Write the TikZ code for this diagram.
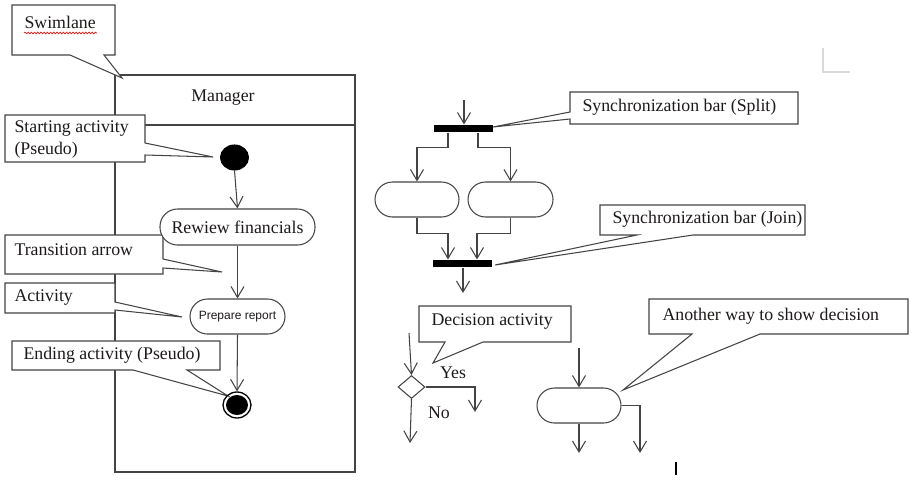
\documentclass[tikz,border=0pt]{standalone}
\usepackage{fontspec}
\setmainfont{Liberation Serif}
\newfontfamily\sansf{Liberation Sans}
\usetikzlibrary{arrows.meta,shapes.geometric,decorations.pathmorphing}
\definecolor{ln}{HTML}{444444}
\definecolor{txt}{HTML}{1E1A1A}
\begin{document}
\begin{tikzpicture}[x=1pt,y=-1pt,
  line width=1.05pt,
  every node/.style={font=\fontsize{17.8}{22}\selectfont, text=txt},
  arr/.style={draw=ln, -{Straight Barb[length=11pt,width=13pt]}},
  callout/.style={draw=ln, fill=white, line join=miter},
  oval/.style={draw=ln, rounded corners=17.5pt, minimum height=35, inner sep=0},
  bar/.style={fill=black, minimum width=59, minimum height=7, inner sep=0},
  lbl/.style={anchor=west, inner sep=0}]
\useasboundingbox (0,0) rectangle (913,485);
\fill[white] (0,0) rectangle (913,485);

% swimlane
\node[draw=ln, minimum width=240, minimum height=397, inner sep=0] (lane) at (235,273.5) {};
\draw[ln] (lane.west |- 0,125) -- (lane.east |- 0,125);
\node (mgr) at (223,98) {Manager};

% callouts
\draw[callout] (12,5) -- (115,5) -- (115,55) -- (104,55) -- (122,78) -- (70,55) -- (12,55) -- cycle;
\node[lbl] (swl) at (24,22) {Swimlane};
\draw[red, line width=0.6, decorate, decoration={snake, amplitude=0.9, segment length=3.2}] (24,33) -- (97,33);

\draw[callout] (5,115) -- (145,115) -- (145,143) -- (213,157) -- (145,155) -- (145,162) -- (5,162) -- cycle;
\node[lbl, align=left] (sact) at (14,139) {Starting activity\\(Pseudo)};

\draw[callout] (5,235) -- (163,235) -- (163,259) -- (222,272) -- (163,268) -- (163,274) -- (5,274) -- cycle;
\node[lbl] (tarr) at (14,250) {Transition arrow};

\draw[callout] (5,283) -- (115,283) -- (115,302) -- (182,317) -- (115,310) -- (115,313) -- (5,313) -- cycle;
\node[lbl] (act) at (14,298) {Activity};

\draw[callout] (12,341) -- (220,341) -- (220,370) -- (187,370) -- (228,396) -- (133,370) -- (12,370) -- cycle;
\node[lbl] (eact) at (23,355) {Ending activity (Pseudo)};

\draw[callout] (570,92) -- (798,92) -- (798,124) -- (570,124) -- (570,119) -- (493,127) -- (570,112) -- cycle;
\node[lbl] (splt) at (582,107) {Synchronization bar (Split)};

\draw[callout] (600,205) -- (805,205) -- (805,235) -- (693,235) -- (495,265) -- (637,235) -- (600,235) -- cycle;
\node[lbl] (jnt) at (612,219) {Synchronization bar (Join)};

\draw[callout] (419,306) -- (571,306) -- (571,342) -- (483,342) -- (433,363) -- (445,342) -- (419,342) -- cycle;
\node[lbl] (dect) at (431,322) {Decision activity};

\draw[callout] (649,299) -- (908,299) -- (908,334) -- (760,334) -- (623,390) -- (692,334) -- (649,334) -- cycle;
\node[lbl] (altt) at (662,316) {Another way to show decision};

% swimlane flow
\node[ellipse, fill=black, draw=black, minimum width=28, minimum height=25, inner sep=0] (start) at (234.5,157.5) {};
\node[oval, minimum width=155, minimum height=36, fill=white] (review) at (237.5,227) {Rewiew financials};
\node[oval, minimum width=95, fill=white, font=\sansf\fontsize{12}{14}\selectfont] (prep) at (237.5,316.5) {Prepare report};
\node[ellipse, draw=black, line width=1.3pt, minimum width=28, minimum height=26, inner sep=0] (end) at (237,405) {};
\node[ellipse, fill=black, minimum width=22, minimum height=20, inner sep=0] (endin) at (end.center) {};
\draw[arr] (start.south) -- (review.north);
\draw[arr] (review.south) -- (prep.north);
\draw[arr] (prep.south) -- (end.north);

% fork / join
\node[bar] (split) at (463.5,128.5) {};
\coordinate (splitin) at (464,100);
\draw[arr] (splitin) -- (splitin |- split.north);
\node[oval, minimum width=84] (L1) at (417,199.5) {};
\node[oval, minimum width=85] (R1) at (510.5,199.5) {};
\draw[arr] ([xshift=-15.5pt]split.south) -- ++(0,15) -| (L1.north);
\draw[arr] ([xshift=14.5pt]split.south) -- ++(0,15) -| (R1.north);
\node[bar] (join) at (462.5,263.5) {};
\draw[arr] (L1.south) -- ++(0,16) -| ([xshift=-14.5pt]join.north);
\draw[arr] (R1.south) -- ++(0,16) -| ([xshift=14.5pt]join.north);
\coordinate (joinout) at (463,293);
\draw[arr] (join.south -| joinout) -- (joinout);

% decision
\node[diamond, draw=ln, minimum width=27, minimum height=23, inner sep=0] (dec) at (411.5,387) {};
\coordinate (decin) at (409,333);
\draw[arr] (decin) -- (dec.north);
\coordinate (yesend) at (475,412);
\draw[arr] (dec.east) -| (yesend);
\coordinate (noend) at (410,443);
\draw[arr] (dec.south) -- (noend);
\node (yes) at (453,373) {Yes};
\node (no) at (439,413) {No};

% alternative decision
\node[oval, minimum width=84] (alt) at (579,405.5) {};
\coordinate (altin) at (579,348);
\draw[arr] (altin) -- (alt.north);
\coordinate (altdown) at (579,453);
\draw[arr] (alt.south) -- (altdown);
\coordinate (altright) at (640,453);
\draw[arr] (alt.east) -| (altright);

% marks
\draw[black!15, line width=1.2] (823,48) -- (823,72) -- (850,72);
\draw[black, line width=1.2] (676,462) -- (676,475);
\end{tikzpicture}
\end{document}
